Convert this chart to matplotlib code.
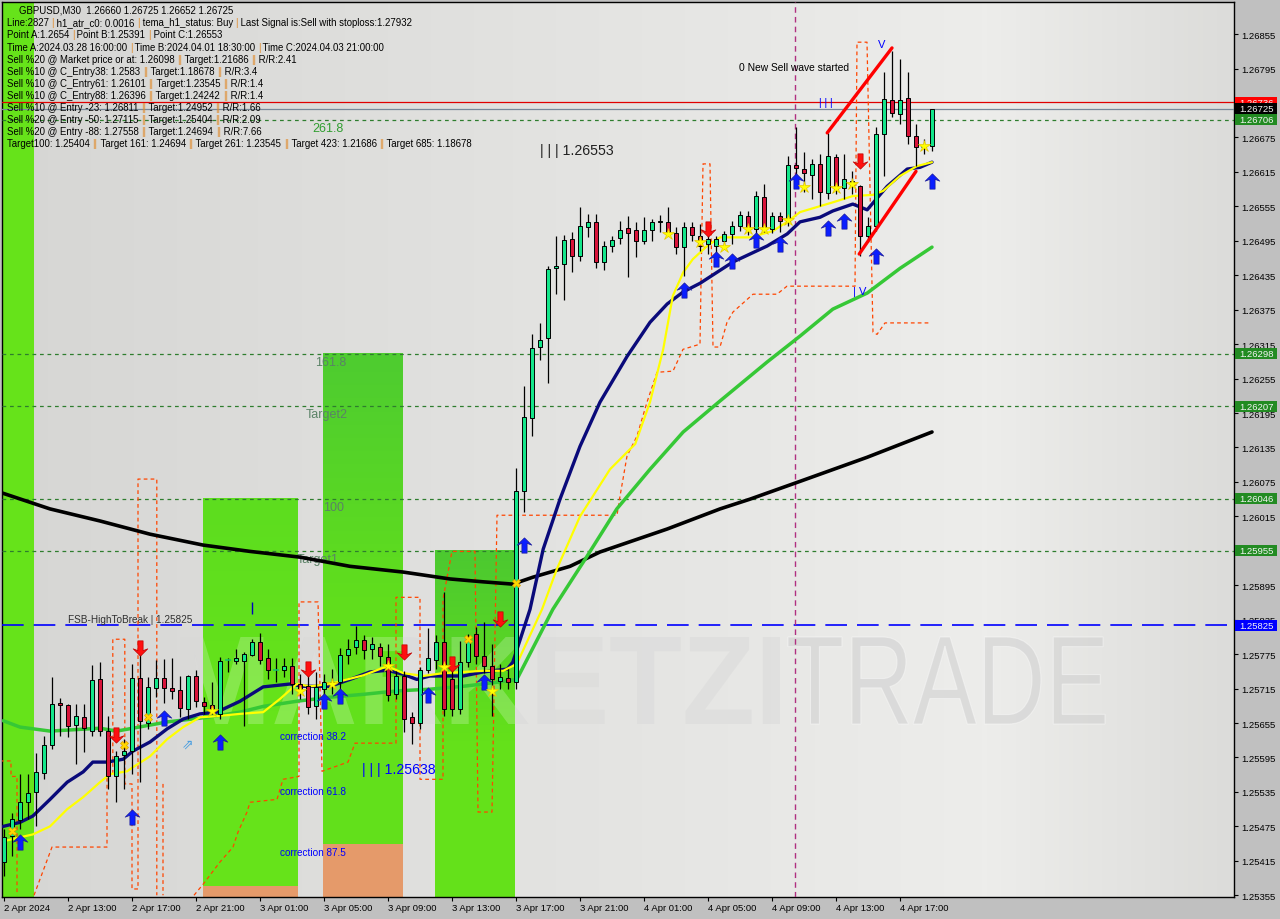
import re
import numpy as np
import matplotlib
matplotlib.use("Agg")
import matplotlib.pyplot as plt
from matplotlib.path import Path
from matplotlib.patches import Rectangle, PathPatch
from matplotlib.textpath import TextPath
from matplotlib.font_manager import FontProperties
from matplotlib.colors import LinearSegmentedColormap
import matplotlib.transforms as mtrans

plt.rcParams['font.family'] = ['Liberation Sans', 'DejaVu Sans']

# ---------------- data ----------------
time_labels = ["2 Apr 2024", "2 Apr 13:00", "2 Apr 17:00", "2 Apr 21:00", "3 Apr 01:00",
               "3 Apr 05:00", "3 Apr 09:00", "3 Apr 13:00", "3 Apr 17:00", "3 Apr 21:00",
               "4 Apr 01:00", "4 Apr 05:00", "4 Apr 09:00", "4 Apr 13:00", "4 Apr 17:00"]
tick_bars = list(range(0, 113, 8))

opens = [1.25413, 1.25458, 1.25486, 1.25517, 1.25535, 1.25568, 1.25617, 1.25690, 1.25686, 1.25651,
         1.25665, 1.25641, 1.25731, 1.25641, 1.25563, 1.25599, 1.25606, 1.25733, 1.25655, 1.25716,
         1.25733, 1.25716, 1.25713, 1.25679, 1.25737, 1.25691, 1.25686, 1.25671, 1.25763, 1.25763,
         1.25763, 1.25773, 1.25796, 1.25768, 1.25747, 1.25747, 1.25754, 1.25723, 1.25719, 1.25684,
         1.25714, 1.25721, 1.25726, 1.25773, 1.25787, 1.25799, 1.25784, 1.25787, 1.25770, 1.25705,
         1.25737, 1.25665, 1.25655, 1.25747, 1.25765, 1.25796, 1.25731, 1.25679, 1.25761, 1.25810,
         1.25772, 1.25754, 1.25728, 1.25733, 1.25726, 1.26059, 1.26186, 1.26310, 1.26325, 1.26447,
         1.26454, 1.26498, 1.26468, 1.26519, 1.26527, 1.26458, 1.26486, 1.26500, 1.26517, 1.26514,
         1.26494, 1.26514, 1.26527, 1.26527, 1.26508, 1.26484, 1.26519, 1.26503, 1.26489, 1.26486,
         1.26494, 1.26507, 1.26521, 1.26538, 1.26515, 1.26571, 1.26515, 1.26538, 1.26528, 1.26627,
         1.26620, 1.26610, 1.26629, 1.26578, 1.26641, 1.26587, 1.26590, 1.26590, 1.26503, 1.26520,
         1.26681, 1.26740, 1.26716, 1.26744, 1.26677, 1.26658, 1.26660]
highs = [1.25470, 1.25498, 1.25566, 1.25566, 1.25603, 1.25632, 1.25735, 1.25698, 1.25688, 1.25688,
         1.25688, 1.25756, 1.25761, 1.25667, 1.25606, 1.25627, 1.25758, 1.25775, 1.25735, 1.25764,
         1.25766, 1.25768, 1.25737, 1.25739, 1.25747, 1.25700, 1.25726, 1.25770, 1.25768, 1.25784,
         1.25779, 1.25801, 1.25812, 1.25784, 1.25768, 1.25768, 1.25768, 1.25740, 1.25749, 1.25744,
         1.25740, 1.25749, 1.25785, 1.25801, 1.25824, 1.25808, 1.25805, 1.25794, 1.25792, 1.25746,
         1.25746, 1.25674, 1.25752, 1.25820, 1.25808, 1.25883, 1.25749, 1.25798, 1.25810, 1.25822,
         1.25831, 1.25792, 1.25758, 1.25749, 1.26099, 1.26242, 1.26332, 1.26352, 1.26451, 1.26503,
         1.26505, 1.26510, 1.26554, 1.26541, 1.26541, 1.26494, 1.26503, 1.26529, 1.26538, 1.26528,
         1.26536, 1.26533, 1.26540, 1.26554, 1.26519, 1.26528, 1.26528, 1.26524, 1.26519, 1.26503,
         1.26512, 1.26529, 1.26547, 1.26547, 1.26581, 1.26594, 1.26545, 1.26545, 1.26643, 1.26693,
         1.26649, 1.26637, 1.26646, 1.26683, 1.26646, 1.26646, 1.26616, 1.26592, 1.26536, 1.26693,
         1.26789, 1.26826, 1.26811, 1.26789, 1.26698, 1.26672, 1.26725]
lows = [1.25388, 1.25423, 1.25470, 1.25488, 1.25476, 1.25557, 1.25610, 1.25632, 1.25630, 1.25584,
        1.25604, 1.25632, 1.25632, 1.25540, 1.25517, 1.25540, 1.25566, 1.25552, 1.25645, 1.25700,
        1.25690, 1.25697, 1.25665, 1.25662, 1.25683, 1.25671, 1.25671, 1.25662, 1.25744, 1.25758,
        1.25650, 1.25772, 1.25758, 1.25731, 1.25727, 1.25735, 1.25705, 1.25697, 1.25671, 1.25662,
        1.25688, 1.25705, 1.25714, 1.25758, 1.25775, 1.25766, 1.25766, 1.25754, 1.25693, 1.25697,
        1.25639, 1.25619, 1.25645, 1.25742, 1.25749, 1.25667, 1.25667, 1.25671, 1.25752, 1.25758,
        1.25742, 1.25667, 1.25714, 1.25714, 1.25714, 1.26022, 1.26155, 1.26287, 1.26247, 1.26402,
        1.26392, 1.26440, 1.26460, 1.26501, 1.26447, 1.26444, 1.26475, 1.26489, 1.26432, 1.26467,
        1.26489, 1.26494, 1.26510, 1.26503, 1.26472, 1.26433, 1.26494, 1.26477, 1.26472, 1.26458,
        1.26481, 1.26489, 1.26512, 1.26505, 1.26507, 1.26510, 1.26508, 1.26510, 1.26521, 1.26594,
        1.26580, 1.26568, 1.26555, 1.26568, 1.26576, 1.26568, 1.26576, 1.26468, 1.26493, 1.26512,
        1.26608, 1.26710, 1.26698, 1.26663, 1.26625, 1.26646, 1.26652]
closes = [1.25456, 1.25488, 1.25517, 1.25533, 1.25570, 1.25617, 1.25688, 1.25686, 1.25649, 1.25667,
          1.25646, 1.25730, 1.25641, 1.25563, 1.25597, 1.25606, 1.25733, 1.25658, 1.25718, 1.25733,
          1.25716, 1.25711, 1.25681, 1.25737, 1.25693, 1.25684, 1.25679, 1.25763, 1.25765, 1.25768,
          1.25775, 1.25796, 1.25765, 1.25747, 1.25749, 1.25754, 1.25723, 1.25714, 1.25683, 1.25718,
          1.25726, 1.25726, 1.25773, 1.25784, 1.25799, 1.25782, 1.25792, 1.25772, 1.25704, 1.25737,
          1.25662, 1.25655, 1.25747, 1.25768, 1.25796, 1.25679, 1.25679, 1.25761, 1.25805, 1.25772,
          1.25754, 1.25731, 1.25735, 1.25726, 1.26059, 1.26188, 1.26308, 1.26322, 1.26446, 1.26451,
          1.26496, 1.26468, 1.26520, 1.26527, 1.26458, 1.26486, 1.26496, 1.26514, 1.26508, 1.26494,
          1.26514, 1.26527, 1.26529, 1.26510, 1.26484, 1.26519, 1.26505, 1.26486, 1.26498, 1.26498,
          1.26507, 1.26521, 1.26540, 1.26515, 1.26573, 1.26515, 1.26538, 1.26529, 1.26627, 1.26622,
          1.26613, 1.26629, 1.26580, 1.26643, 1.26585, 1.26603, 1.26599, 1.26503, 1.26520, 1.26681,
          1.26742, 1.26717, 1.26740, 1.26677, 1.26658, 1.26660, 1.26725]

# moving averages (bar position, price)
navy_x = [-0.1, 2, 3.6, 5.75, 7.9, 9.9, 11.1, 12.9, 14.9, 16.1, 18.25, 20.4, 22.4, 24.5, 26.6, 29.5,
          32.4, 35.75, 37.4, 40.75, 43.25, 45.75, 47.9, 49.9, 51.6, 53.25, 57.4, 59.9, 62.9, 63.6,
          65.75, 67.4, 69.5, 72, 74.5, 77.9, 80.75, 82.9, 84.9, 87, 91.1, 95.4, 97.9, 99.5, 102,
          103.6, 106.1, 107.9, 110.4, 112.9, 114.5, 116]
navy_y = [1.25475, 1.25482, 1.25493, 1.25522, 1.25552, 1.25570, 1.25587, 1.25587, 1.25592, 1.25606,
          1.25622, 1.25645, 1.25662, 1.25671, 1.25674, 1.25693, 1.25718, 1.25723, 1.25719, 1.25719,
          1.25731, 1.25744, 1.25747, 1.25740, 1.25731, 1.25737, 1.25737, 1.25744, 1.25749, 1.25761,
          1.25853, 1.25958, 1.26045, 1.26137, 1.26214, 1.26294, 1.26353, 1.26385, 1.26406, 1.26421,
          1.26458, 1.26486, 1.26507, 1.26528, 1.26536, 1.26547, 1.26559, 1.26549, 1.26590, 1.26620,
          1.26623, 1.26632]
yel_x = [-0.1, 2, 3.6, 5.75, 7.9, 9.9, 12, 13.25, 15.4, 16.1, 18.25, 20.4, 22.4, 24.5, 26.6, 29.5,
         32.4, 34.5, 36.6, 38.25, 40.75, 42.9, 44.9, 47.9, 49.9, 52.4, 54.9, 57.4, 59.9, 62.4, 64.1,
         67.25, 69.1, 72, 75.75, 78.9, 80.75, 82.4, 83.6, 84.9, 86.1, 87.9, 89.5, 93.25, 96.1, 97.9,
         99.5, 103.6, 106.1, 108.6, 109.9, 112, 114.1, 116]
yel_y = [1.25449, 1.25456, 1.25461, 1.25475, 1.25505, 1.25526, 1.25552, 1.25566, 1.25571, 1.25578,
         1.25597, 1.25627, 1.25648, 1.25665, 1.25667, 1.25671, 1.25674, 1.25697, 1.25723, 1.25719,
         1.25723, 1.25731, 1.25738, 1.25754, 1.25742, 1.25737, 1.25742, 1.25744, 1.25746, 1.25746,
         1.25758, 1.25853, 1.25923, 1.26015, 1.26097, 1.26141, 1.26214, 1.26306, 1.26399, 1.26440,
         1.26463, 1.26486, 1.26501, 1.26501, 1.26512, 1.26528, 1.26545, 1.26562, 1.26573, 1.26575,
         1.26582, 1.26608, 1.26625, 1.26632]
grn_x = [-0.1, 2, 5.75, 12, 14.1, 16.1, 20.4, 25.4, 29.5, 32.4, 36.6, 40.75, 44.9, 49.1, 53.25,
         57.4, 61.6, 64.1, 68.6, 72.9, 76.6, 80.75, 84.9, 89.5, 95.4, 99.5, 103.6, 107.9, 112, 116]
grn_y = [1.25659, 1.25648, 1.25641, 1.25646, 1.25641, 1.25646, 1.25657, 1.25665, 1.25674, 1.25684,
         1.25693, 1.25700, 1.25705, 1.25711, 1.25714, 1.25719, 1.25726, 1.25731, 1.25853, 1.25946,
         1.26028, 1.26097, 1.26162, 1.26216, 1.26284, 1.26329, 1.26376, 1.26404, 1.26447, 1.26484]
blk_x = [-0.5, 5.75, 12, 18.25, 24.9, 30.75, 37, 43.25, 49.9, 55.75, 59.9, 63.6, 66.1, 70.75, 74.5,
         82.9, 89.5, 93.25, 99.5, 107.9, 116]
blk_y = [1.26057, 1.26028, 1.26007, 1.25984, 1.25965, 1.25954, 1.25944, 1.25928, 1.25918, 1.25906,
         1.25901, 1.25897, 1.25909, 1.25928, 1.25953, 1.25993, 1.26028, 1.26045, 1.26076, 1.26118,
         1.26162]

# orange dashed step indicator (bar, price); None = break
orange_x = [-0.5, 0.875, 0.875, 1.625, 1.625, None,
            3.75, 6, 12.875, 12.875, 13.6, 13.6, 15.1, 15.1, 16, 16, 16.75, 16.75, 19.1, 19.1, None,
            19.875, 19.875, None,
            23.75, 24.875, 27, 28.625, 29.25, 30.375, 30.75, 34.125, 34.875, 36.875, 36.875, 39.25,
            39.75, 43, 43.875, 49, 49, 52, 52, 54.875, 54.875, 56, 58.875, 59.25, 61, 61.625, 76.625,
            77, 77.875, 79.125, 80.375, 81.625, 83.625, 84.875, 87, 87.375, 88.25, 88.625, 89.5,
            90.375, 91.125, 93.625, 96.625, 97.875, 106.375, 106.625, 107.875, 108.625, 109.125,
            110.125, 115.75]
orange_y = [1.25589, 1.25589, 1.25562, 1.25562, 1.25355, None,
            1.25355, 1.25439, 1.25439, 1.25566, 1.25566, 1.25801, 1.25801, 1.25549, 1.25549, 1.25366,
            1.25366, 1.26080, 1.26080, 1.25355, None,
            1.25549, 1.25355, None,
            1.25355, 1.25374, 1.25413, 1.25439, 1.25465, 1.25500, 1.25517, 1.25522, 1.25557, 1.25562,
            1.25866, 1.25866, 1.25571, 1.25587, 1.25620, 1.25620, 1.25874, 1.25874, 1.25557, 1.25557,
            1.25871, 1.25954, 1.25954, 1.25500, 1.25500, 1.26017, 1.26017, 1.26050, 1.26120, 1.26155,
            1.26214, 1.26266, 1.26268, 1.26306, 1.26315, 1.26629, 1.26629, 1.26310, 1.26310, 1.26353,
            1.26371, 1.26402, 1.26402, 1.26416, 1.26416, 1.26841, 1.26841, 1.26336, 1.26332, 1.26352,
            1.26352]

# signals
up_bars = [2, 16, 20, 27, 40, 42, 53, 60, 65, 85, 89, 91, 94, 97, 99, 103, 105, 109, 116]
up_prices = [1.25447, 1.25491, 1.25664, 1.25622, 1.25693, 1.25702, 1.25704, 1.25726, 1.25965, 1.26409,
             1.26463, 1.26460, 1.26496, 1.26489, 1.26599, 1.26517, 1.26529, 1.26468, 1.26599]
down_bars = [14, 17, 38, 50, 56, 62, 88, 107]
down_prices = [1.25634, 1.25785, 1.25749, 1.25779, 1.25758, 1.25836, 1.26515, 1.26634]
star_bars = [26, 37, 41, 48, 55, 61, 83, 87, 90, 93, 95, 98, 100, 104, 106, 115]
star_prices = [1.25676, 1.25711, 1.25723, 1.25754, 1.25753, 1.25711, 1.26507, 1.26493, 1.26484,
               1.26515, 1.26515, 1.26531, 1.26589, 1.26587, 1.26594, 1.26660]
cross_bars = [1, 15, 18, 58, 64]
cross_prices = [1.25467, 1.25617, 1.25665, 1.25802, 1.25899]

wedge_upper = [(102.9, 1.26683), (111.0, 1.26831)]
wedge_lower = [(106.9, 1.26472), (114.0, 1.26616)]

# levels
fib_levels = [1.26706, 1.26298, 1.26207, 1.26046, 1.25955]
fib_names = ["261.8", "161.8", "Target2", "100", "Target1"]
fib_label_bar = [38.6, 38.9, 37.75, 39.9, 36.6]
fsb_level = 1.25825
red_level = 1.26736
bid_level = 1.26725
vline_bar = 98.9

green_zones = [(-0.5, 3.75, None, None, '#66e31a', '#66e31a'),
               (24.875, 36.75, 1.25371, 1.26046, '#66e31a', '#5ddd1f'),
               (39.875, 49.875, 1.25444, 1.26298, '#62e01b', '#4ecc30'),
               (53.875, 63.875, None, 1.25955, '#64e11a', '#4cc930')]
salmon_zones = [(24.875, 36.75, 1.25371), (39.875, 49.875, 1.25444)]

y_ticks = [1.26855 - 0.0006 * k for k in range(26)]
side_boxes = [(1.26736, '#ff0000'), (1.26725, '#000000'), (1.26706, '#228b22'),
              (1.26298, '#228b22'), (1.26207, '#228b22'), (1.26046, '#228b22'),
              (1.25955, '#228b22'), (1.25825, '#0000ff')]

info_lines = [
    "GBPUSD,M30  1.26660 1.26725 1.26652 1.26725",
    "Line:2827 | h1_atr_c0: 0.0016 | tema_h1_status: Buy | Last Signal is:Sell with stoploss:1.27932",
    "Point A:1.2654 | Point B:1.25391 | Point C:1.26553",
    "Time A:2024.03.28 16:00:00 | Time B:2024.04.01 18:30:00 | Time C:2024.04.03 21:00:00",
    "Sell %20 @ Market price or at: 1.26098 || Target:1.21686 || R/R:2.41",
    "Sell %10 @ C_Entry38: 1.2583 || Target:1.18678 || R/R:3.4",
    "Sell %10 @ C_Entry61: 1.26101 || Target:1.23545 || R/R:1.4",
    "Sell %10 @ C_Entry88: 1.26396 || Target:1.24242 || R/R:1.4",
    "Sell %10 @ Entry -23: 1.26811 || Target:1.24952 || R/R:1.66",
    "Sell %20 @ Entry -50: 1.27115 || Target:1.25404 || R/R:2.09",
    "Sell %20 @ Entry -88: 1.27558 || Target:1.24694 || R/R:7.66",
    "Target100: 1.25404 || Target 161: 1.24694 || Target 261: 1.23545 || Target 423: 1.21686 || Target 685: 1.18678",
]

# ---------------- layout ----------------
W, H = 1280, 920
PL, PR, PT, PB = 2, 1234, 3, 898
Y_MIN, Y_MAX = 1.25352, 1.26911
X_MIN, X_MAX = (PL - 4) / 8.0, (PR - 4) / 8.0

fig = plt.figure(figsize=(W / 100, H / 100), dpi=100, facecolor='#c0c0c0')
ax = fig.add_axes([PL / W, 1 - PB / H, (PR - PL) / W, (PB - PT) / H])
ax.set_facecolor('#e0e0e0')

def fx(px):
    return (px - PL) / (PR - PL)

def fy(py):
    return (PB - py) / (PB - PT)

# background gradient
bg = LinearSegmentedColormap.from_list('bg', [(0, '#d6d6d4'), (0.45, '#e3e3e1'), (0.8, '#ededeb'), (1, '#dcdcda')])
ax.imshow(np.linspace(0, 1, 256)[None, :], extent=[X_MIN, X_MAX, Y_MIN, Y_MAX], aspect='auto',
          cmap=bg, zorder=0, interpolation='bilinear')

# watermark
def watermark(text, weight, box, fc, alpha, z, ec='none'):
    fp = FontProperties(family='Liberation Sans', weight=weight)
    tp = TextPath((0, 0), text, size=100, prop=fp)
    ext = tp.get_extents()
    x0, x1, y0, y1 = fx(box[0]), fx(box[1]), fy(box[3]), fy(box[2])
    tr = mtrans.Affine2D().translate(-ext.x0, -ext.y0).scale((x1 - x0) / ext.width, (y1 - y0) / ext.height).translate(x0, y0)
    ax.add_patch(PathPatch(tr.transform_path(tp), transform=ax.transAxes, fc=fc, ec=ec, lw=0.8,
                           alpha=alpha, zorder=z))

watermark("MARKETZI", 'bold', (180, 780, 638, 725), '#b8b8b8', 0.32, 1)
watermark("TRADE", 'normal', (788, 1105, 638, 725), '#bcbcbc', 0.42, 1, ec='#ffffff')

# green zones (vertical gradient)
for (x0, x1, y0, y1, c_bot, c_top) in green_zones:
    y0 = Y_MIN if y0 is None else y0
    y1 = Y_MAX if y1 is None else y1
    cm = LinearSegmentedColormap.from_list('gz', [(0, c_bot), (0.45, c_bot), (1, c_top)])
    ax.imshow(np.linspace(0, 1, 64)[:, None], extent=[x0, x1, y0, y1], origin='lower', aspect='auto',
              cmap=cm, vmin=0, vmax=1, zorder=2, interpolation='bilinear')
for (x0, x1, y1) in salmon_zones:
    ax.add_patch(Rectangle((x0, Y_MIN), x1 - x0, y1 - Y_MIN, fc='#e59a6a', ec='none', zorder=2))

watermark("MARKETZI", 'bold', (180, 780, 638, 725), '#ffffff', 0.22, 2.5)
watermark("TRADE", 'normal', (788, 1105, 638, 725), '#ffffff', 0.12, 2.5)

# horizontal levels
for lv in fib_levels:
    ax.axhline(lv, color='#2e7d2e', lw=0.9, ls=(0, (3, 3)), zorder=3)
for lv, nm, xb in zip(fib_levels, fib_names, fib_label_bar):
    col = '#2f9e2f' if nm == "261.8" else '#5a8266'
    ax.text(xb, lv - 0.00014, nm, fontsize=9, color=col, ha='left', va='center', zorder=3.2)
ax.axhline(fsb_level, color='#0000ff', lw=1.2, ls=(0, (13, 6)), zorder=3)
ax.text(8.0, fsb_level + 0.00011, "FSB-HighToBreak | 1.25825", fontsize=7.2, color='#303030',
        ha='left', va='center', zorder=3.2)
ax.axhline(red_level, color='#e00000', lw=0.9, zorder=3)
ax.axhline(bid_level, color='#778899', lw=0.9, zorder=3)
ax.axvline(vline_bar, color='#b03080', lw=1.0, ls=(0, (4, 3)), zorder=3)

# orange dashed
ox = np.array([np.nan if v is None else v for v in orange_x], float)
oy = np.array([np.nan if v is None else v for v in orange_y], float)
ax.plot(ox, oy, color='#ff4500', lw=0.9, ls=(0, (3, 2.5)), zorder=4)

# moving averages
ax.plot(blk_x, blk_y, color='#000000', lw=2.6, zorder=5, solid_capstyle='round')
ax.plot(grn_x, grn_y, color='#36c836', lw=2.5, zorder=5, solid_capstyle='round')
ax.plot(navy_x, navy_y, color='#0a0a7a', lw=2.4, zorder=5.1, solid_capstyle='round')
ax.plot(yel_x, yel_y, color='#ffff00', lw=1.6, zorder=5.2, solid_capstyle='round')

# candles
bars = np.arange(len(opens))
ax.vlines(bars, lows, highs, color='#000000', lw=0.9, zorder=6)
for i in bars:
    o, c = opens[i], closes[i]
    lo, hi = min(o, c), max(o, c)
    if hi - lo < 0.00002:
        ax.hlines((o + c) / 2, i - 0.35, i + 0.35, color='#000000' if c < o else '#19c36b', lw=1.2, zorder=6.1)
        continue
    col = '#14e68a' if c >= o else '#d8143a'
    ax.add_patch(Rectangle((i - 0.31, lo), 0.62, hi - lo, fc=col, ec='#000000', lw=0.7, zorder=6.1))

# wedge lines
ax.plot(*zip(*wedge_upper), color='#ff0000', lw=2.4, zorder=6.5, solid_capstyle='round')
ax.plot(*zip(*wedge_lower), color='#ff0000', lw=2.4, zorder=6.5, solid_capstyle='round')

# arrows & markers
arrow_v = [(0, 0.5), (0.48, 0.02), (0.17, 0.14), (0.17, -0.5), (-0.17, -0.5), (-0.17, 0.14), (-0.48, 0.02), (0, 0.5)]
up_arrow = Path(arrow_v, closed=True)
down_arrow = Path([(x, -y) for x, y in arrow_v], closed=True)
ax.plot(up_bars, up_prices, ls='none', marker=up_arrow, ms=11, mfc='#0a1eff', mec='#1a1a9a', mew=0.5, zorder=7)
ax.plot(down_bars, down_prices, ls='none', marker=down_arrow, ms=11, mfc='#ff1010', mec='#c00000', mew=0.5, zorder=7)
ax.plot(star_bars, star_prices, ls='none', marker='*', ms=9, mfc='#ffff00', mec='#e6c800', mew=0.5, zorder=7)
ax.plot(cross_bars, cross_prices, ls='none', marker='X', ms=5.5, mfc='#ffd700', mec='#e0a000', mew=0.5, zorder=7)
ax.text(23, 1.25620, "\u21d7", fontsize=10, color='#4a9ee0', ha='center', va='center', zorder=7,
        family=['DejaVu Sans'])
ax.vlines(31, 1.25845, 1.25866, color='#0000c0', lw=1, zorder=7)

# chart texts
ax.text(91.9, 1.26798, "0 New Sell wave started", fontsize=7.4, color='#000000', ha='left', va='center', zorder=8)
ax.text(102.75, 1.26737, "| | |", fontsize=7.5, color='#0000ff', ha='center', va='center', zorder=8)
ax.text(109.75, 1.26838, "V", fontsize=8, color='#0000ff', ha='center', va='center', zorder=8)
ax.text(106.9, 1.26407, "| V", fontsize=8, color='#0000ff', ha='center', va='center', zorder=8)
ax.text(67.0, 1.26653, "| | | 1.26553", fontsize=10.2, color='#202020', ha='left', va='center', zorder=8)
ax.text(44.75, 1.25575, "| | | 1.25638", fontsize=10.2, color='#0000ff', ha='left', va='center', zorder=8)
for lbl, pr in [("correction 38.2", 1.25632), ("correction 61.8", 1.25536), ("correction 87.5", 1.25430)]:
    ax.text(34.5, pr, lbl, fontsize=7.2, color='#0000ff', ha='left', va='center', zorder=8)

# axes styling
ax.set_xlim(X_MIN, X_MAX)
ax.set_ylim(Y_MIN, Y_MAX)
for s in ax.spines.values():
    s.set_color('#000000')
    s.set_linewidth(1.0)
ax.yaxis.tick_right()
ax.set_yticks(y_ticks)
ax.set_yticklabels([f"{v:.5f}" for v in y_ticks], fontsize=6.8)
ax.set_xticks(tick_bars)
ax.set_xticklabels(time_labels, fontsize=6.8, ha='left')
ax.tick_params(axis='both', direction='out', length=3, width=0.8, color='#000000', labelcolor='#000000')
ax.tick_params(axis='y', pad=2.0)
ax.tick_params(axis='x', pad=1.5)

# right side price boxes
btr = mtrans.blended_transform_factory(ax.transAxes, ax.transData)
half = 5.5 / 57.4 * 0.001
for k, (pr, col) in enumerate(side_boxes):
    ax.add_patch(Rectangle((fx(1235), pr - half), fx(1277) - fx(1235), 2 * half, transform=btr,
                           fc=col, ec='none', clip_on=False, zorder=20 + 2 * k))
    ax.text(fx(1239), pr, f"{pr:.5f}", transform=btr, fontsize=6.8, color='#f4f4f4', ha='left',
            va='center', clip_on=False, zorder=21 + 2 * k)

# info text block
def info_line(x_px, y_px, s, fs=6.9):
    parts = [p for p in re.split(r'(\|+)', s) if p != '']
    t = ax.text(x_px / W, 1 - y_px / H, parts[0], transform=fig.transFigure, fontsize=fs,
                color='#e08a2a' if parts[0].startswith('|') else '#000000', ha='left', va='center',
                zorder=40, clip_on=False)
    for p in parts[1:]:
        t = ax.annotate(p, xy=(1, 0.5), xycoords=t, fontsize=fs, ha='left', va='center',
                        color='#e08a2a' if p.startswith('|') else '#000000', zorder=40,
                        annotation_clip=False)

ys = [10.7, 23.5, 35.5, 47.6, 59.8, 71.8, 83.8, 95.9, 107.9, 120.0, 132.0, 144.1]
for k, (line, yv) in enumerate(zip(info_lines, ys)):
    info_line(19 if k == 0 else 7, yv, line)

fig.savefig("out.png", dpi=100, facecolor=fig.get_facecolor())
